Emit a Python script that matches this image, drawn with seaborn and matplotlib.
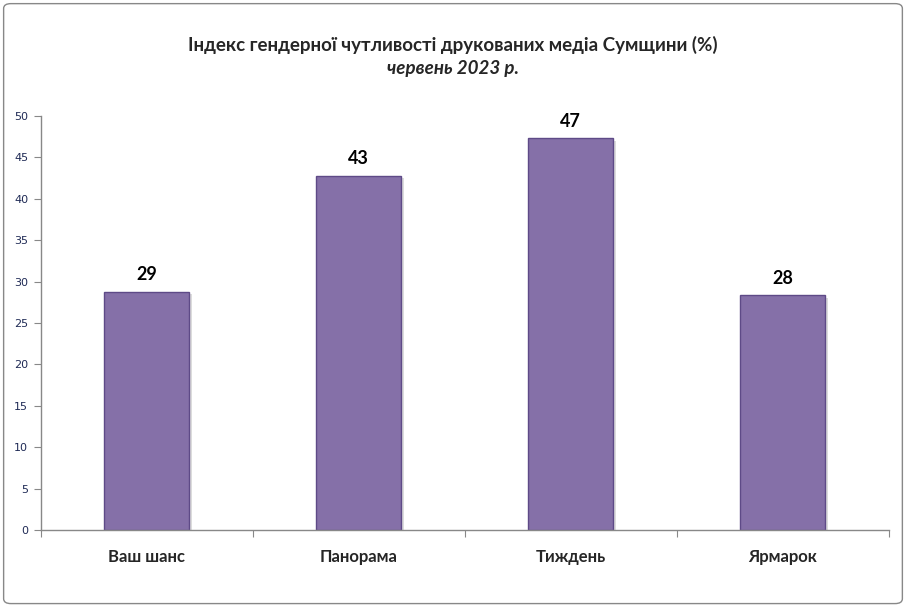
import matplotlib
matplotlib.use('Agg')
import matplotlib.pyplot as plt
import matplotlib.patheffects as pe
from matplotlib.patches import FancyBboxPatch
import pandas as pd
import seaborn as sns

media = ['Ваш шанс', 'Панорама', 'Тиждень', 'Ярмарок']
index_values = [28.8, 42.8, 47.3, 28.4]
value_labels = ['29', '43', '47', '28']
y_ticks = [0, 5, 10, 15, 20, 25, 30, 35, 40, 45, 50]

sns.set_style('white')
plt.rcParams['font.family'] = ['Lato', 'DejaVu Sans']

df = pd.DataFrame({'media': media, 'value': index_values})

fig = plt.figure(figsize=(9.06, 6.06), dpi=100)
ax = fig.add_axes([0.045, 0.1254, 0.936, 0.6832])

sns.barplot(data=df, x='media', y='value', color='#8570a8', width=0.4,
            edgecolor='#5e4a87', linewidth=1, saturation=1, ax=ax)
for p in ax.patches:
    p.set_path_effects([pe.SimplePatchShadow(offset=(2, -2), shadow_rgbFace='#bbbbbb', alpha=0.5),
                        pe.Normal()])

for i, (v, s) in enumerate(zip(index_values, value_labels)):
    ax.text(i, v + 1.0, s, ha='center', va='bottom', fontsize=13, fontweight='bold', color='black')

ax.set_xlim(-0.5, 3.5)
ax.set_ylim(0, 50)
ax.set_yticks(y_ticks)
ax.set_yticklabels([str(t) for t in y_ticks], fontsize=8, color='#1f2a55', family='DejaVu Sans')
ax.set_xticks([0.5 + i for i in range(-1, 4)], minor=False)
ax.set_xticklabels([])
ax.set_xticks(range(len(media)), minor=True)
ax.set_xticklabels(media, minor=True, fontsize=12, fontweight='bold')
ax.tick_params(axis='x', which='minor', length=0, pad=14)
ax.tick_params(axis='x', which='major', direction='out', length=5, color='#888888', bottom=True)
ax.tick_params(axis='y', direction='out', length=5, color='#888888', left=True, pad=4)
ax.set_xlabel(None)
ax.set_ylabel(None)
sns.despine(ax=ax, top=True, right=True)
for s in ['left', 'bottom']:
    ax.spines[s].set_color('#888888')
    ax.spines[s].set_linewidth(1)

fig.text(0.5, 0.925, 'Індекс гендерної чутливості друкованих медіа Сумщини (%)',
         ha='center', va='center', fontsize=13.5, fontweight='bold')
fig.text(0.5, 0.887, 'червень 2023 р.', ha='center', va='center', fontsize=13.5,
         fontweight='bold', style='italic')

border = FancyBboxPatch((0.004, 0.004), 0.992, 0.99, boxstyle='round,pad=0,rounding_size=0.008',
                        transform=fig.transFigure, fill=False, edgecolor='#888888', linewidth=1)
fig.patches.append(border)

fig.savefig('out.png', dpi=100)
